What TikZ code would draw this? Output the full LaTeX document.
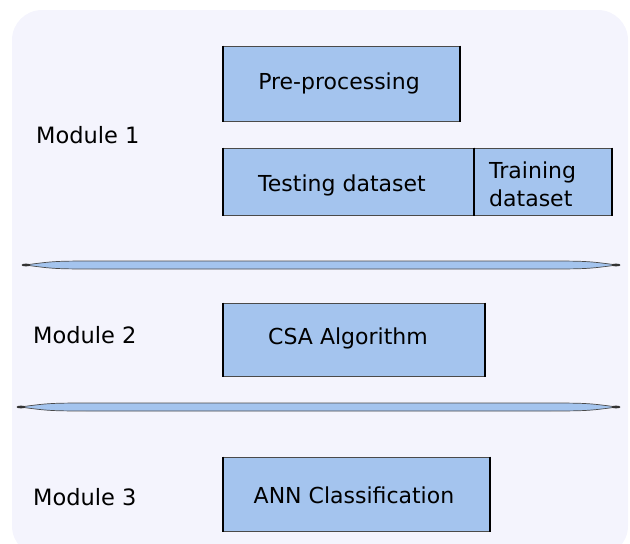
\documentclass[tikz,border=0pt]{standalone}
\usepackage{fontspec}
\setmainfont{DejaVu Sans}
\definecolor{panelbg}{HTML}{F4F4FD}
\definecolor{boxblue}{HTML}{A4C4EE}
\definecolor{edgegray}{HTML}{4A4A4A}
\begin{document}
\begin{tikzpicture}[x=1pt,y=-1pt,
  modlabel/.style={font=\fontsize{22.5}{26}\selectfont,anchor=west,inner sep=0pt},
  boxtext/.style={font=\fontsize{22}{26}\selectfont,align=center,inner sep=0pt}]
\useasboundingbox (0,0) rectangle (630,544);
\clip (0,0) rectangle (630,544);
% background panel
\fill[panelbg,rounded corners=30pt] (12,10) rectangle (628,556);

% stage boxes: thin outline with heavy left and right sides
\newcommand{\stagebox}[5]{%
  \fill[boxblue] (#1,#2) rectangle (#3,#4);
  \draw[edgegray,line width=1pt] (#1,#2) -- (#3,#2) (#1,#4) -- (#3,#4);
  \draw[black,line width=2.6pt] (#1,#2-0.5) -- (#1,#4+0.5) (#3,#2-0.5) -- (#3,#4+0.5);
  \coordinate (#5) at ({(#1+#3)/2},{(#2+#4)/2});}

\stagebox{223}{46}{460}{121}{pre}
\stagebox{223}{148}{474}{215}{test}
\stagebox{474}{148}{612}{215}{train}
\stagebox{223}{303}{485}{376}{csa}
\stagebox{223}{457}{490}{531}{ann}

\node[boxtext] (pretxt) at (339,83) {Pre-processing};
\node[boxtext] (testtxt) at (342,185) {Testing dataset};
\node[boxtext,align=left,anchor=west,font=\fontsize{22}{28}\selectfont] (traintxt) at (489,184) {Training\\dataset};
\node[boxtext] (csatxt) at (348,338) {CSA Algorithm};
\node[boxtext] (anntxt) at (354,495) {ANN Classification};

% module labels
\node[modlabel] (m1) at (36,135) {Module 1};
\node[modlabel] (m2) at (33,335) {Module 2};
\node[modlabel] (m3) at (33,497) {Module 3};

% lens-shaped separators
\newcommand{\lens}[3]{%
  \filldraw[fill=boxblue,draw=edgegray,line width=0.7pt]
    (#1,#3) .. controls (#1+30,#3-4) .. (#1+80,#3-4) -- (#2-80,#3-4)
    .. controls (#2-30,#3-4) .. (#2,#3)
    .. controls (#2-30,#3+4) .. (#2-80,#3+4) -- (#1+80,#3+4)
    .. controls (#1+30,#3+4) .. (#1,#3) -- cycle;
  \fill[black!80] (#1+1,#3) ellipse (4.5 and 1.4);
  \fill[black!80] (#2-1,#3) ellipse (4.5 and 1.4);}
\lens{25}{617}{265}
\lens{20}{617}{407}
\end{tikzpicture}
\end{document}
